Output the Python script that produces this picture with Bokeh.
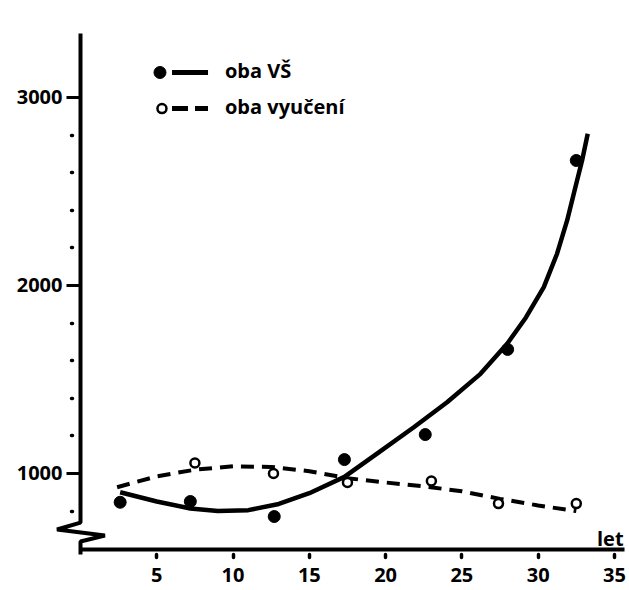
from bokeh.plotting import figure
from bokeh.models import FixedTicker, Range1d, Label
from bokeh.embed import file_html
from bokeh.resources import INLINE

# ---- data ----
vs_years = [2.6, 7.2, 12.7, 17.3, 22.6, 28.0, 32.5]
vs_wage = [847, 851, 771, 1074, 1207, 1660, 2665]
vy_years = [7.5, 12.65, 17.5, 23.0, 27.4, 32.5]
vy_wage = [1056, 1000, 952, 960, 840, 840]

vs_curve_x = [2.6, 5, 7.2, 9, 11, 13, 15, 17.3, 19.6, 21.85, 24.03, 26.22, 27.97,
              29.2, 30.37, 31.24, 31.9, 32.44, 32.88, 33.25]
vs_curve_y = [900, 851, 814, 800, 805, 838, 895, 982, 1115, 1246, 1379, 1530, 1690,
              1830, 1991, 2169, 2346, 2523, 2665, 2807]
vy_curve_x = [2.4, 5, 7.5, 10, 12.5, 15, 17.5, 20, 22.5, 25, 27.5, 30, 32.5]
vy_curve_y = [927, 985, 1020, 1038, 1035, 1012, 975, 952, 932, 905, 865, 830, 800]

x_ticks = [5, 10, 15, 20, 25, 30, 35]
y_ticks = [1000, 2000, 3000]
y_minor = [800, 1200, 1400, 1600, 1800, 2200, 2400, 2600, 2800]

legend_labels = ["oba VŠ", "oba vyučení"]
FONT = "Open Sans"

p = figure(width=629, height=590, output_backend="svg", toolbar_location=None,
           x_range=Range1d(0, 35.66), y_range=Range1d(595.7, 3340.4),
           min_border_left=80, min_border_right=5, min_border_top=33, min_border_bottom=41)
p.outline_line_color = None
p.xgrid.visible = False
p.ygrid.visible = False
p.background_fill_color = "white"
p.border_fill_color = "white"

# x axis
xa = p.xaxis[0]
xa.ticker = FixedTicker(ticks=x_ticks)
xa.axis_line_width = 4
xa.axis_line_color = "black"
xa.major_tick_in = -5
xa.major_tick_out = 8
xa.major_tick_line_width = 3.5
xa.major_tick_line_cap = "round"
xa.minor_tick_line_color = None
xa.major_label_standoff = 10
xa.major_label_text_font = FONT
xa.major_label_text_font_style = "bold"
xa.major_label_text_font_size = "20px"
xa.major_label_text_color = "black"

# y axis
ya = p.yaxis[0]
ya.ticker = FixedTicker(ticks=y_ticks, minor_ticks=y_minor)
ya.axis_line_color = None
ya.major_tick_in = 0
ya.major_tick_out = 14
ya.major_tick_line_width = 3
ya.minor_tick_in = -8
ya.minor_tick_out = 9
ya.minor_tick_line_width = 3.5
ya.minor_tick_line_cap = "round"
ya.major_label_standoff = 4
ya.major_label_text_font = FONT
ya.major_label_text_font_style = "bold"
ya.major_label_text_font_size = "20px"
ya.major_label_text_color = "black"

# y axis line with break (decoration)
brk_x = [0, 0, -1.54, 1.6, 0, 0]
brk_y = [3340.4, 739, 702, 670, 638, 569]
p.line(brk_x, brk_y, line_width=4, line_color="black", level="overlay")

# curves
p.line(vs_curve_x, vs_curve_y, line_width=4.5, line_color="black", line_join="round")
p.line(vy_curve_x, vy_curve_y, line_width=4, line_color="black", line_dash="13 8")

# points
p.scatter(vy_years, vy_wage, marker="circle", size=9, fill_color="white",
          line_color="black", line_width=2.5)
p.scatter(vs_years, vs_wage, marker="circle", size=12, fill_color="black", line_color="black")

# legend (manual)
p.scatter([5.21], [3133], marker="circle", size=12, fill_color="black", line_color="black")
p.line([6.0, 8.36], [3133, 3133], line_width=5, line_color="black")
p.scatter([5.34], [2941], marker="circle", size=9, fill_color="white", line_color="black", line_width=2.5)
p.line([6.0, 8.36], [2941, 2941], line_width=5, line_color="black", line_dash="16 7")
for txt, yy in zip(legend_labels, [3144, 2952]):
    p.add_layout(Label(x=9.47, y=yy, text=txt, text_font=FONT, text_font_style="bold",
                       text_font_size="20px", text_baseline="middle", text_align="left",
                       text_color="black"))

p.add_layout(Label(x=-2.2, y=3399, text="mzda", text_font=FONT, text_font_style="bold",
                   text_font_size="20px", text_baseline="middle", text_align="center",
                   text_color="black"))
p.add_layout(Label(x=35.6, y=654, text="let", text_font=FONT, text_font_style="bold",
                   text_font_size="20px", text_baseline="middle", text_align="right",
                   text_color="black"))

open("out.html", "w").write(file_html(p, INLINE))
